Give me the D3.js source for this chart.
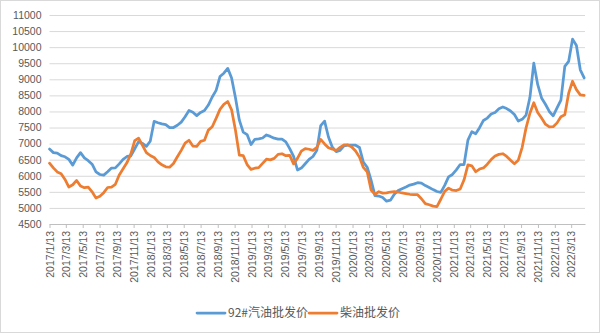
<!DOCTYPE html>
<html>
<head>
<meta charset="utf-8">
<script src="https://cdn.jsdelivr.net/npm/d3@7"></script>
<style>
  html, body { margin: 0; padding: 0; background: #ffffff; }
  svg { display: block; }
</style>
</head>
<body>
<svg id="chart" width="600" height="333"></svg>
<script>
// Wholesale prices (yuan/tonne), sampled every two weeks from the first date.
const seriesNames = ["92#汽油批发价", "柴油批发价"];
const seriesColors = ["#5B9BD5", "#ED7D31"];
const firstDate = "2017-01-13";
const stepDays = 14;

const gasoline92 = [
  6830, 6720, 6705, 6625, 6590, 6510, 6330, 6555, 6720, 6555,
  6470, 6360, 6120, 6040, 6020, 6125, 6240, 6245, 6370, 6510,
  6600, 6620, 6840, 7060, 7005, 6915, 7075, 7690, 7650, 7615,
  7590, 7495, 7500, 7570, 7670, 7835, 8030, 7975, 7870, 7970,
  8030, 8200, 8450, 8655, 9085, 9190, 9340, 9040, 8425, 7730,
  7355, 7280, 6970, 7135, 7145, 7175, 7270, 7225, 7170, 7140,
  7140, 7055, 6845, 6600, 6180, 6240, 6375, 6510, 6600, 6790,
  7560, 7700, 7205, 6890, 6750, 6790, 6930, 6955, 6955, 6950,
  6880, 6425, 6265, 5865, 5380, 5370, 5325, 5210, 5240, 5425,
  5540, 5595, 5650, 5710, 5740, 5785, 5770, 5695, 5635, 5570,
  5510, 5485, 5700, 5965, 6040, 6185, 6350, 6350, 7110, 7370,
  7305, 7495, 7720, 7795, 7920, 7970, 8085, 8140, 8090, 8015,
  7905, 7700, 7755, 7885, 8440, 9500, 8840, 8420, 8225, 8000,
  7865, 8110, 8350, 9400, 9560, 10250, 10050, 9295, 9045
];

const diesel = [
  6390, 6245, 6120, 6065, 5885, 5650, 5720, 5855, 5680, 5630,
  5650, 5500, 5305, 5360, 5475, 5635, 5650, 5735, 6025, 6215,
  6410, 6680, 7090, 7170, 6945, 6720, 6630, 6570, 6430, 6340,
  6280, 6265, 6380, 6590, 6790, 7015, 7105, 6925, 6915, 7070,
  7105, 7420, 7525, 7785, 8065, 8220, 8310, 8050, 7415, 6640,
  6625, 6350, 6200, 6235, 6255, 6385, 6515, 6495, 6540, 6665,
  6685, 6625, 6635, 6370, 6540, 6765, 6845, 6825, 6790, 6880,
  7130, 6990, 6870, 6830, 6785, 6885, 6960, 6960, 6895, 6770,
  6580, 6260, 6125, 5555, 5420, 5505, 5460, 5470, 5495, 5505,
  5495, 5465, 5445, 5425, 5415, 5410, 5285, 5135, 5100, 5055,
  5040, 5270, 5515, 5615, 5550, 5540, 5590, 5875, 6340, 6310,
  6125, 6210, 6245, 6360, 6505, 6615, 6665, 6685, 6600, 6485,
  6375, 6485, 6885, 7490, 7945, 8270, 7970, 7795, 7605, 7520,
  7525, 7645, 7835, 7895, 8570, 8940, 8680, 8515, 8500
];

const yTickValues = [4500, 5000, 5500, 6000, 6500, 7000, 7500, 8000, 8500, 9000, 9500, 10000, 10500, 11000];

const xTickLabels = [
  "2017/1/13", "2017/3/13", "2017/5/13", "2017/7/13", "2017/9/13", "2017/11/13",
  "2018/1/13", "2018/3/13", "2018/5/13", "2018/7/13", "2018/9/13", "2018/11/13",
  "2019/1/13", "2019/3/13", "2019/5/13", "2019/7/13", "2019/9/13", "2019/11/13",
  "2020/1/13", "2020/3/13", "2020/5/13", "2020/7/13", "2020/9/13", "2020/11/13",
  "2021/1/13", "2021/3/13", "2021/5/13", "2021/7/13", "2021/9/13", "2021/11/13",
  "2022/1/13", "2022/3/13"
];
const axisEnd = "2022/5/2";

// ---- layout ----
const W = 600, H = 333;
const plot = { left: 49.5, right: 585, top: 15, bottom: 224 };
const textColor = "#595959";
const gridColor = "#d9d9d9";
const numFont = "'Liberation Sans', Arial, sans-serif";
const cjkFont = "'Noto Sans CJK SC', 'Liberation Sans', sans-serif";

const parseIso = d3.utcParse("%Y-%m-%d");
const parseSlash = d3.utcParse("%Y/%m/%d");
const start = parseIso(firstDate);
const dates = gasoline92.map((_, i) => d3.utcDay.offset(start, i * stepDays));
const tickDates = xTickLabels.map(parseSlash);

const x = d3.scaleUtc()
  .domain([start, parseSlash(axisEnd)])
  .range([plot.left, plot.right]);
const y = d3.scaleLinear()
  .domain([4500, 11000])
  .range([plot.bottom, plot.top]);

const svg = d3.select("#chart");

svg.append("rect")
  .attr("x", 0.5).attr("y", 0.5)
  .attr("width", W - 1).attr("height", H - 1)
  .attr("fill", "#ffffff")
  .attr("stroke", gridColor);

// horizontal gridlines and value labels
const yAxis = d3.axisLeft(y)
  .tickValues(yTickValues)
  .tickSize(-(plot.right - plot.left))
  .tickPadding(8)
  .tickFormat(d3.format("d"));

const gy = svg.append("g")
  .attr("transform", `translate(${plot.left},0)`)
  .call(yAxis);
gy.select(".domain").remove();
gy.selectAll(".tick line").attr("stroke", gridColor).attr("stroke-width", 1);
gy.selectAll(".tick text")
  .attr("fill", textColor)
  .attr("font-family", numFont)
  .attr("font-size", 10.5);

// date axis along the bottom
const xAxis = d3.axisBottom(x)
  .tickValues(tickDates)
  .tickSize(4)
  .tickSizeOuter(0)
  .tickFormat((d, i) => xTickLabels[i]);

const gx = svg.append("g")
  .attr("transform", `translate(0,${plot.bottom})`)
  .call(xAxis);
gx.select(".domain").attr("stroke", "#bfbfbf");
gx.selectAll(".tick line").attr("stroke", "#bfbfbf");
gx.selectAll(".tick text")
  .attr("fill", textColor)
  .attr("font-family", numFont)
  .attr("font-size", 10.5)
  .attr("text-anchor", "end")
  .attr("transform", "rotate(-90)")
  .attr("x", -7)
  .attr("y", 0)
  .attr("dy", "0.35em");

// price lines
const series = [gasoline92, diesel];
const line = d3.line()
  .x((d, i) => x(dates[i]))
  .y(d => y(d));

svg.append("g")
  .selectAll("path")
  .data(series)
  .join("path")
  .attr("d", d => line(d))
  .attr("fill", "none")
  .attr("stroke", (d, i) => seriesColors[i])
  .attr("stroke-width", 2.75)
  .attr("stroke-linejoin", "round")
  .attr("stroke-linecap", "round");

// legend
const legendY = 313;
const legend = svg.append("g").attr("font-family", cjkFont).attr("font-size", 12);
const legendStarts = [197, 309];
seriesNames.forEach((name, i) => {
  const g = legend.append("g").attr("transform", `translate(${legendStarts[i]},${legendY})`);
  g.append("line")
    .attr("x1", 0).attr("x2", 28)
    .attr("y1", 0).attr("y2", 0)
    .attr("stroke", seriesColors[i])
    .attr("stroke-width", 2.75)
    .attr("stroke-linecap", "round");
  g.append("text")
    .attr("x", 31)
    .attr("y", 0)
    .attr("dy", "0.36em")
    .attr("fill", textColor)
    .text(name);
});
</script>
</body>
</html>
